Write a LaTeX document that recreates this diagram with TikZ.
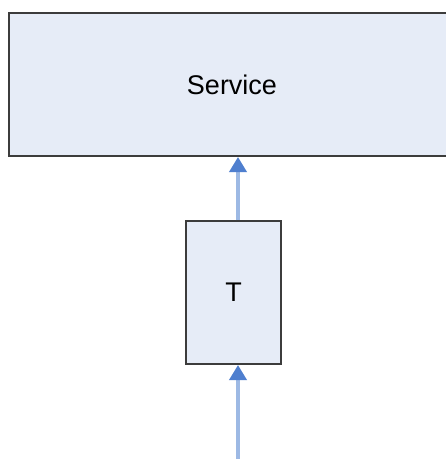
\documentclass[tikz,border=0pt]{standalone}
\usepackage{fontspec}
\setmainfont{Liberation Sans}
\usetikzlibrary{arrows.meta,positioning}
\definecolor{boxfill}{HTML}{E6ECF7}
\definecolor{boxline}{HTML}{3C3C3C}
\definecolor{flowline}{HTML}{9DB9E4}
\definecolor{flowhead}{HTML}{4F7FCF}
\tikzset{
	block/.style={draw=boxline, line width=2pt, fill=boxfill, font=\fontsize{27}{30}\selectfont, inner sep=0pt},
	flow/.style={draw=flowline, line width=3.5pt, -{Triangle[width=17pt,length=15pt,color=flowhead]}}
}

\begin{document}
\begin{tikzpicture}[x=1pt,y=-1pt]
			%%%%% START %%%%%
			
			\clip (0,0) rectangle (446,459);
			\fill[white] (0,0) rectangle (446,459);
			
			\node[block, minimum width=446pt, minimum height=143pt] (service) at (232,84.5) {Service};
			\node[block, minimum width=95pt, minimum height=143pt] (t) at (233.5,292.5) {T};
			
			\coordinate (src) at (238,462);
			
			\draw[flow] ([xshift=4.5pt]t.north) -- ([xshift=4.5pt]t.north |- service.south);
			\draw[flow] (src) -- (src |- t.south);
			
			%%%%% END %%%%%
\end{tikzpicture}
\end{document}
